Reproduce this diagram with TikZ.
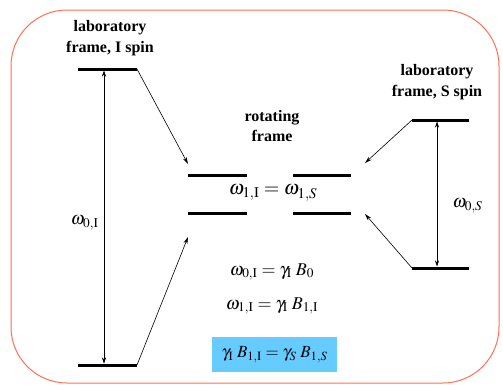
\documentclass[tikz,border=0pt]{standalone}
\usepackage{mathptmx}
\usepackage{fontspec}
\setmainfont{Liberation Serif}
\definecolor{frameorange}{RGB}{255,112,80}
\definecolor{boxblue}{RGB}{102,204,255}
\usetikzlibrary{arrows.meta}

\begin{document}
\begin{tikzpicture}[x=1pt, y=-1pt,
  level/.style={line width=3pt},
  gap/.style={{Stealth[length=6pt,width=4pt]}-{Stealth[length=6pt,width=4pt]}, line width=0.6pt, shorten <=1.5pt, shorten >=1.5pt},
  jump/.style={-{Stealth[length=7pt,width=4pt]}, line width=0.6pt},
  lbl/.style={font=\fontsize{16}{20.5}\selectfont\bfseries, align=center},
  eq/.style={font=\fontsize{18}{20}\selectfont}]
\useasboundingbox (0,0) rectangle (503,384);
% Outer frame
\draw[frameorange, line width=1pt, rounded corners=56pt] (11,10) rectangle (499,383);
% Laboratory frame, I spin
\node[lbl] (labI) at (110,38) {laboratory\\frame, I spin};
\coordinate (ItopL) at (78,69);
\coordinate (ItopR) at (137,69);
\coordinate (IbotL) at (78,365);
\coordinate (IbotR) at (137,365);
\coordinate (ItopM) at (104,69);
\coordinate (IbotM) at (104,365);
\draw[level] (ItopL) -- (ItopR);
\draw[level] (IbotL) -- (IbotR);
\draw[gap] (ItopM) -- (IbotM);
\node[font=\fontsize{18}{20}\selectfont, anchor=east] (w0I) at (102,223) {$\omega_{0,\mathrm{I}}$};
% Rotating frame
\node[lbl] (rot) at (272,126) {rotating\\frame};
\coordinate (RaL) at (188,175);
\coordinate (RaR) at (247,175);
\coordinate (RbL) at (188,213);
\coordinate (RbR) at (247,213);
\coordinate (SaL) at (293,175);
\coordinate (SaR) at (351,175);
\coordinate (SbL) at (293,213);
\coordinate (SbR) at (351,213);
\draw[level] (RaL) -- (RaR);
\draw[level] (RbL) -- (RbR);
\draw[level] (SaL) -- (SaR);
\draw[level] (SbL) -- (SbR);
\node[font=\fontsize{20}{22}\selectfont] (w1) at (273,193) {$\omega_{1,\mathrm{I}} = \omega_{1,S}$};
% Laboratory frame, S spin
\node[lbl] (labS) at (437,82) {laboratory\\frame, S spin};
\coordinate (StopL) at (412,120);
\coordinate (StopR) at (469,120);
\coordinate (SbotL) at (412,268);
\coordinate (SbotR) at (469,268);
\coordinate (StopM) at (437,120);
\coordinate (SbotM) at (437,268);
\draw[level] (StopL) -- (StopR);
\draw[level] (SbotL) -- (SbotR);
\draw[gap] (StopM) -- (SbotM);
\node[font=\fontsize{18}{20}\selectfont, anchor=west] (w0S) at (449,206) {$\omega_{0,S}$};
% Transformations into the rotating frame
\coordinate (tipA) at (188,164);
\coordinate (tipB) at (188,237);
\coordinate (tipC) at (365,163);
\coordinate (tipD) at (365,214);
\draw[jump] (ItopR) -- (tipA);
\draw[jump] (IbotR) -- (tipB);
\draw[jump] (StopL) -- (tipC);
\draw[jump] (SbotL) -- (tipD);
% Relations
\node[eq] (eq1) at (272,272) {$\omega_{0,\mathrm{I}} = \gamma_{\mathrm{I}}\;B_0$};
\node[eq] (eq2) at (272,306) {$\omega_{1,\mathrm{I}} = \gamma_{\mathrm{I}}\;B_{1,\mathrm{I}}$};
\node[eq, font=\fontsize{17}{20}\selectfont, fill=boxblue, minimum width=125pt, minimum height=35pt, inner sep=0pt] (hh) at (274.5,354.5) {$\gamma_{\mathrm{I}}\;B_{1,\mathrm{I}} = \gamma_S\; B_{1,S}$};
\end{tikzpicture}
\end{document}
